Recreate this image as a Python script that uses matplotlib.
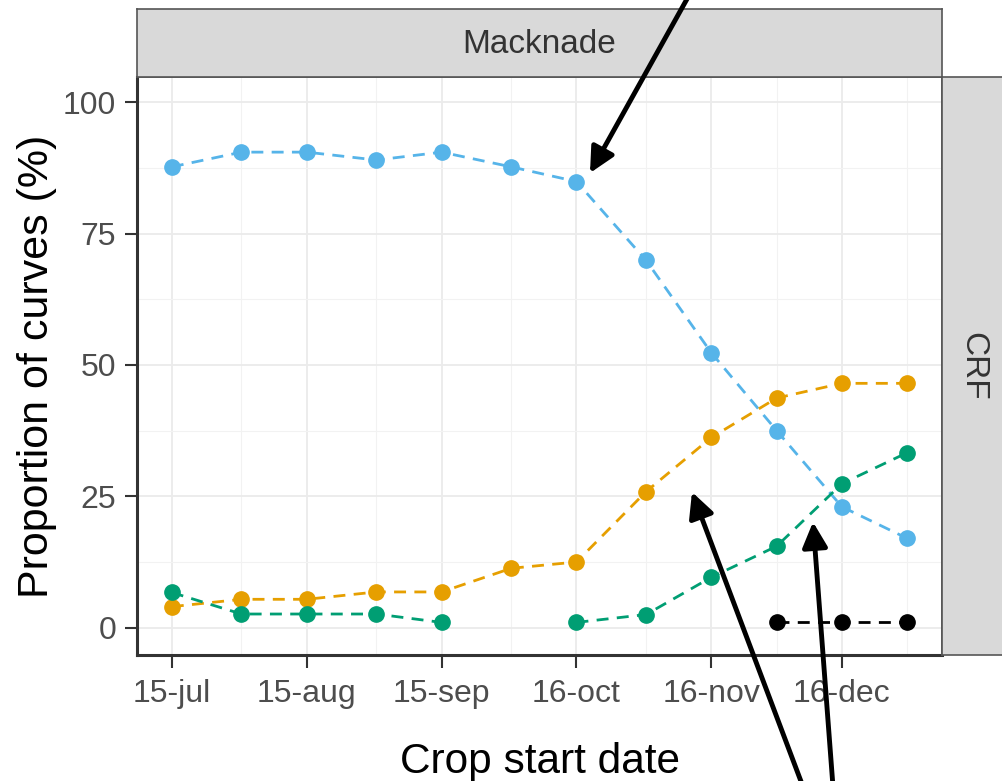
import numpy as np
import matplotlib
matplotlib.use("Agg")
import matplotlib.pyplot as plt
from matplotlib.patches import FancyArrowPatch

plt.rcParams['font.family'] = ['Liberation Sans', 'DejaVu Sans']

# crop start dates (half-monthly) and proportion of curves (%)
dates = np.array(['2017-07-15', '2017-07-31', '2017-08-15', '2017-08-31',
                  '2017-09-15', '2017-10-01', '2017-10-16', '2017-11-01',
                  '2017-11-16', '2017-12-01', '2017-12-16', '2017-12-31'],
                 dtype='datetime64[D]')
blue = [87.7, 90.5, 90.5, 89.0, 90.5, 87.7, 84.9, 69.9, 52.3, 37.5, 23.0, 17.0]
orange = [4.0, 5.4, 5.4, 6.8, 6.8, 11.3, 12.5, 25.9, 36.2, 43.7, 46.5, 46.5]
green = [6.7, 2.6, 2.6, 2.6, 1.0, np.nan, 1.0, 2.5, 9.6, 15.5, 27.4, 33.3]
black = [np.nan] * 9 + [1.0, 1.0, 1.0]

series = [(blue, '#56B4E9'), (orange, '#E69F00'), (green, '#009E73'), (black, '#000000')]

tick_dates = np.array(['2017-07-15', '2017-08-15', '2017-09-15', '2017-10-16',
                       '2017-11-16', '2017-12-16'], dtype='datetime64[D]')
tick_labels = ['15-jul', '15-aug', '15-sep', '16-oct', '16-nov', '16-dec']

strip_top = 'Macknade'
strip_right = 'CRF'

W, H = 1002, 781
fig = plt.figure(figsize=(W / 100, H / 100), dpi=100)

def fx(px):
    return px / W

def fy(py):
    return 1 - py / H

left, right, top, bottom = 137, 942, 77, 655
ax = fig.add_axes([fx(left), fy(bottom), fx(right - left), fy(top) - fy(bottom)])

for vals, col in series:
    ax.plot(dates, vals, linestyle=(0, (4.3, 3)), color=col, lw=2.0, zorder=3)
    ax.plot(dates, vals, linestyle='none', marker='o', ms=11, color=col, zorder=4)

span = (dates[-1] - dates[0]).astype(int)
pad = np.timedelta64(int(round(span * 0.05)), 'D')
ax.set_xlim(dates[0] - pad, dates[-1] + pad)
ax.set_ylim(-5.2, 104.8)

ax.set_xticks(tick_dates)
ax.set_xticklabels(tick_labels)
minor = [np.datetime64('2017-07-31'), np.datetime64('2017-08-31'),
         np.datetime64('2017-10-01'), np.datetime64('2017-11-01'),
         np.datetime64('2017-12-01'), np.datetime64('2017-12-31')]
ax.set_xticks(minor, minor=True)
ax.set_yticks([0, 25, 50, 75, 100])
ax.set_yticks([12.5, 37.5, 62.5, 87.5], minor=True)

ax.grid(which='major', color='#EBEBEB', lw=1.3, zorder=0)
ax.grid(which='minor', color='#F2F2F2', lw=0.8, zorder=0)
ax.set_axisbelow(True)

ax.tick_params(which='major', length=9, width=1.5, color='#333333',
               labelsize=23, labelcolor='#4D4D4D', pad=6)
ax.tick_params(axis='x', which='major', pad=8)
ax.tick_params(which='minor', length=0)

for s in ['top', 'right']:
    ax.spines[s].set_color('#555555')
    ax.spines[s].set_linewidth(1.2)
for s in ['left', 'bottom']:
    ax.spines[s].set_color('#333333')
    ax.spines[s].set_linewidth(2.2)

ax.set_xlabel('Crop start date', fontsize=30.5, color='black', labelpad=24)
ax.set_ylabel('Proportion of curves (%)', fontsize=31, color='black', labelpad=4)

# facet strips
sax = fig.add_axes([fx(left), fy(top), fx(right - left), fy(9) - fy(top)])
sax.set_facecolor('#D9D9D9')
sax.set_xticks([])
sax.set_yticks([])
for s in sax.spines.values():
    s.set_color('#555555')
    s.set_linewidth(1.2)
sax.text(0.5, 0.48, strip_top, ha='center', va='center', fontsize=24,
         color='#333333', transform=sax.transAxes)

rax = fig.add_axes([fx(right), fy(bottom), fx(68), fy(top) - fy(bottom)])
rax.set_facecolor('#D9D9D9')
rax.set_xticks([])
rax.set_yticks([])
for s in rax.spines.values():
    s.set_color('#555555')
    s.set_linewidth(1.2)
rax.text(0.45, 0.5, strip_right, ha='center', va='center', fontsize=24,
         color='#333333', rotation=-90, transform=rax.transAxes)

# annotation arrows
arrows = [((692, -10), (590, 173)), ((808, 800), (692, 492)), ((834, 800), (813, 522))]
for (x0, y0), (x1, y1) in arrows:
    a = FancyArrowPatch((fx(x0), fy(y0)), (fx(x1), fy(y1)), transform=fig.transFigure,
                        arrowstyle='-|>', mutation_scale=38, lw=3.5, color='black',
                        shrinkA=0, shrinkB=0, zorder=10)
    fig.add_artist(a)

fig.savefig('out.png', dpi=100)
